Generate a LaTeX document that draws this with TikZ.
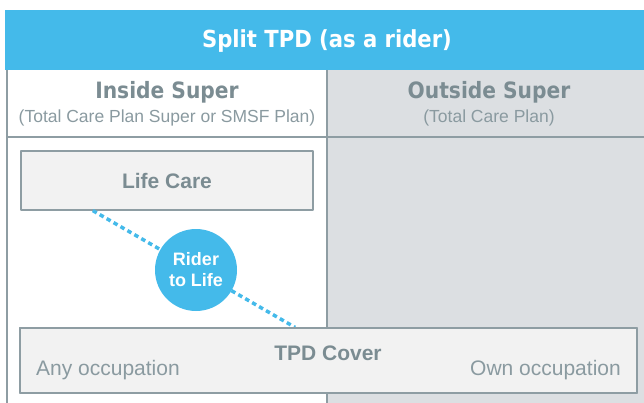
\documentclass[tikz,border=0pt]{standalone}
\usepackage{fontspec}
\setmainfont{Liberation Sans}
\newfontfamily\headfont{DejaVu Sans Condensed}
\usetikzlibrary{calc}
\definecolor{skyblue}{HTML}{44BAEA}
\definecolor{slate}{HTML}{7B8C92}
\definecolor{lightslate}{HTML}{8A9AA0}
\definecolor{rulegray}{HTML}{8E9DA3}
\definecolor{colgray}{HTML}{DCDFE2}
\definecolor{boxgray}{HTML}{F2F2F2}
\tikzset{
  rule/.style={draw=rulegray,line width=1.2pt},
  coverbox/.style={rule,fill=boxgray,inner sep=0pt},
  colhead/.style={text=slate,font=\headfont\bfseries\fontsize{22.5}{26}\selectfont},
  colsub/.style={text=lightslate,font=\fontsize{17.5}{20}\selectfont},
  boxtitle/.style={text=slate,font=\bfseries\fontsize{21}{24}\selectfont},
  occtext/.style={text=lightslate,font=\fontsize{21}{24}\selectfont},
  riderline/.style={draw=skyblue,line width=3.5pt,dash pattern=on 4.5pt off 3.5pt}
}
\begin{document}
\begin{tikzpicture}[x=1pt,y=-1pt,line join=round]
	\def\xl{7}\def\xm{327}\def\xr{644}\def\yt{70}\def\yh{137}\def\yb{403}
	\useasboundingbox (0,0) rectangle (644,403);
	\fill[skyblue] (5,10) rectangle (\xr,\yt);
	\fill[colgray] (\xm,\yt) rectangle (\xr,\yb);
	\draw[rule] (\xl,\yb)--(\xl,\yt) (\xm,\yt)--(\xm,\yb) (\xl,\yh)--(\xr,\yh);
	\node[text=white,font=\headfont\bfseries\fontsize{23.5}{26}\selectfont] (title) at (327,41) {Split TPD (as a rider)};
	\node[colhead] (inside) at (167,92) {Inside Super};
	\node[colsub] (insidesub) at (167,118) {(Total Care Plan Super or SMSF Plan)};
	\node[colhead] (outside) at (489,92) {Outside Super};
	\node[colsub] (outsidesub) at (489,118) {(Total Care Plan)};
	\node[coverbox,minimum width=292pt,minimum height=59pt] (life) at (167,180.5) {};
	\node[boxtitle] (lifetext) at (life) {Life Care};
	\node[coverbox,minimum width=617pt,minimum height=65pt] (tpd) at (328.5,360.5) {};
	\coordinate (lifeend) at ($(life.south west)!0.247!(life.south east)$);
	\coordinate (tpdend) at ($(tpd.north west)!0.446!(tpd.north east)$);
	\draw[riderline] (lifeend) -- (tpdend);
	\node[coverbox,minimum width=617pt,minimum height=65pt] at (tpd) {};
	\node[circle,fill=skyblue,minimum size=82pt,inner sep=0pt,align=center,text=white,
		font=\bfseries\fontsize{18}{21}\selectfont] (rider) at (196,270) {Rider\\to Life};
	\node[boxtitle] (tpdtext) at (328,353) {TPD Cover};
	\node[occtext,anchor=west,inner sep=0pt] (anyocc) at (36,370) {Any occupation};
	\node[occtext,anchor=east,inner sep=0pt] (ownocc) at (621,370) {Own occupation};
\end{tikzpicture}
\end{document}
